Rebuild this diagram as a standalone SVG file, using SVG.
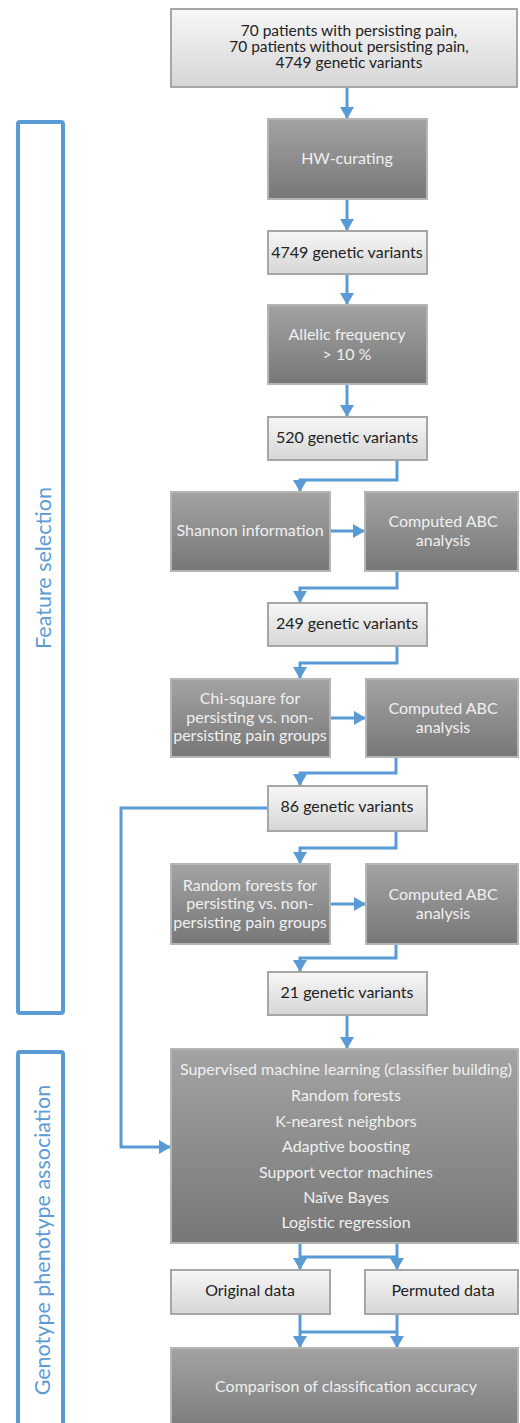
<svg xmlns="http://www.w3.org/2000/svg" width="520" height="1423" viewBox="0 0 520 1423">
<defs>
<linearGradient id="gDark" x1="0" y1="0" x2="0" y2="1">
<stop offset="0" stop-color="#a3a3a3"/>
<stop offset="1" stop-color="#777777"/>
</linearGradient>
<linearGradient id="gLight" x1="0" y1="0" x2="0" y2="1">
<stop offset="0" stop-color="#f7f7f7"/>
<stop offset="1" stop-color="#d6d6d6"/>
</linearGradient>
<marker id="ah" markerUnits="userSpaceOnUse" markerWidth="14" markerHeight="14" refX="12" refY="7" orient="auto">
<path d="M0,0 L12,7 L0,14 Z" fill="#5b9bd5"/>
</marker>
</defs>
<style>
.dark{fill:url(#gDark);stroke:#b5b5b5;stroke-width:2}
.light{fill:url(#gLight);stroke:#a6a6a6;stroke-width:2}
.tl{font-family:Lato,"Liberation Sans",sans-serif;font-size:16px;fill:#f0f0f0;text-anchor:middle}
.td{font-family:Lato,"Liberation Sans",sans-serif;font-size:16px;fill:#222222;text-anchor:middle}
.tt{font-size:15.5px}
.con{fill:none;stroke:#5b9bd5;stroke-width:3}
.arr{fill:none;stroke:#5b9bd5;stroke-width:3;marker-end:url(#ah)}
.brk{fill:none;stroke:#5b9bd5;stroke-width:4}
.bt{font-family:Lato,"Liberation Sans",sans-serif;font-size:21.5px;fill:#5b9bd5;text-anchor:middle}
</style>
<rect width="520" height="1423" fill="#ffffff"/>

<g id="feature-selection">
<rect class="brk" x="18" y="122" width="45" height="891" rx="2"/>
<text class="bt" transform="translate(51,568) rotate(-90)">Feature selection</text>
</g>
<g id="genotype-phenotype">
<rect class="brk" x="18" y="1052" width="45" height="400" rx="2"/>
<text class="bt" transform="translate(50,1240) rotate(-90)">Genotype phenotype association</text>
</g>

<g id="connectors">
<line class="arr" x1="347" y1="88" x2="347" y2="119"/>
<line class="arr" x1="347" y1="200" x2="347" y2="231"/>
<line class="arr" x1="347" y1="275" x2="347" y2="305"/>
<line class="arr" x1="347" y1="385" x2="347" y2="417"/>
<path class="arr" d="M397,461 V480 H300 V492"/>
<line class="arr" x1="331" y1="531" x2="365" y2="531"/>
<path class="arr" d="M397,572 V588 H300 V603"/>
<path class="arr" d="M397,647 V663 H300 V679"/>
<line class="arr" x1="331" y1="718" x2="366" y2="718"/>
<path class="arr" d="M396,758 V773 H300 V786"/>
<path class="arr" d="M268,808 H121 V1147 H171"/>
<path class="arr" d="M396,832 V848 H300 V864"/>
<line class="arr" x1="331" y1="904" x2="366" y2="904"/>
<path class="arr" d="M396,945 V958 H300 V972"/>
<line class="arr" x1="347" y1="1016" x2="347" y2="1049"/>
<line class="con" x1="300" y1="1257" x2="397" y2="1257"/>
<line class="arr" x1="300" y1="1244" x2="300" y2="1270"/>
<line class="arr" x1="397" y1="1244" x2="397" y2="1270"/>
<line class="con" x1="300" y1="1332" x2="397" y2="1332"/>
<line class="arr" x1="300" y1="1315" x2="300" y2="1348"/>
<line class="arr" x1="397" y1="1315" x2="397" y2="1348"/>
</g>

<g id="n-input">
<rect class="light" x="171" y="9" width="346" height="78"/>
<text class="td tt" x="349" y="36">70 patients with persisting pain,</text>
<text class="td tt" x="349" y="52">70 patients without persisting pain,</text>
<text class="td tt" x="349" y="68">4749 genetic variants</text>
</g>
<g id="n-hw">
<rect class="dark" x="268" y="119" width="159" height="80"/>
<text class="tl" x="347" y="164">HW-curating</text>
</g>
<g id="n-4749">
<rect class="light" x="268" y="231" width="159" height="43"/>
<text class="td" x="347" y="258">4749 genetic variants</text>
</g>
<g id="n-allelic">
<rect class="dark" x="268" y="305" width="159" height="79"/>
<text class="tl" x="347" y="340">Allelic frequency</text>
<text class="tl" x="347" y="360">&gt; 10 %</text>
</g>
<g id="n-520">
<rect class="light" x="268" y="417" width="159" height="43"/>
<text class="td" x="347" y="443">520 genetic variants</text>
</g>
<g id="n-shannon">
<rect class="dark" x="171" y="492" width="159" height="79"/>
<text class="tl" x="250" y="536">Shannon information</text>
</g>
<g id="n-abc1">
<rect class="dark" x="365" y="492" width="153" height="79"/>
<text class="tl" x="443" y="527">Computed ABC</text>
<text class="tl" x="443" y="546">analysis</text>
</g>
<g id="n-249">
<rect class="light" x="268" y="603" width="159" height="43"/>
<text class="td" x="347" y="629">249 genetic variants</text>
</g>
<g id="n-chi">
<rect class="dark" x="171" y="679" width="159" height="78"/>
<text class="tl" x="250" y="704">Chi-square for</text>
<text class="tl" x="250" y="723">persisting vs. non-</text>
<text class="tl" x="250" y="741">persisting pain groups</text>
</g>
<g id="n-abc2">
<rect class="dark" x="366" y="679" width="152" height="78"/>
<text class="tl" x="443" y="714">Computed ABC</text>
<text class="tl" x="443" y="733">analysis</text>
</g>
<g id="n-86">
<rect class="light" x="268" y="786" width="159" height="45"/>
<text class="td" x="347" y="812">86 genetic variants</text>
</g>
<g id="n-rf">
<rect class="dark" x="171" y="864" width="159" height="80"/>
<text class="tl" x="250" y="891">Random forests for</text>
<text class="tl" x="250" y="909">persisting vs. non-</text>
<text class="tl" x="250" y="928">persisting pain groups</text>
</g>
<g id="n-abc3">
<rect class="dark" x="366" y="864" width="152" height="80"/>
<text class="tl" x="443" y="900">Computed ABC</text>
<text class="tl" x="443" y="919">analysis</text>
</g>
<g id="n-21">
<rect class="light" x="268" y="972" width="159" height="43"/>
<text class="td" x="347" y="998">21 genetic variants</text>
</g>
<g id="n-sml">
<rect class="dark" x="171" y="1049" width="347" height="194"/>
<text class="tl" x="346" y="1075">Supervised machine learning (classifier building)</text>
<text class="tl" x="346" y="1101">Random forests</text>
<text class="tl" x="346" y="1127">K-nearest neighbors</text>
<text class="tl" x="346" y="1152">Adaptive boosting</text>
<text class="tl" x="346" y="1178">Support vector machines</text>
<text class="tl" x="346" y="1203">Naïve Bayes</text>
<text class="tl" x="346" y="1228">Logistic regression</text>
</g>
<g id="n-orig">
<rect class="light" x="171" y="1270" width="159" height="44"/>
<text class="td" x="250" y="1296">Original data</text>
</g>
<g id="n-perm">
<rect class="light" x="365" y="1270" width="153" height="44"/>
<text class="td" x="443" y="1296">Permuted data</text>
</g>
<g id="n-comp">
<rect class="dark" x="171" y="1348" width="347" height="90"/>
<text class="tl" x="346" y="1392">Comparison of classification accuracy</text>
</g>
</svg>
